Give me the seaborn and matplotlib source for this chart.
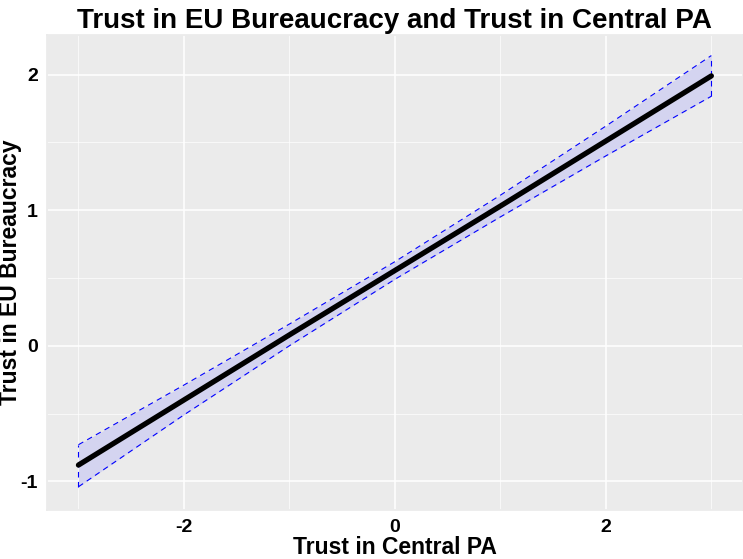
import matplotlib
matplotlib.use("Agg")
import matplotlib.pyplot as plt
from matplotlib.ticker import MultipleLocator
import pandas as pd
import seaborn as sns

# Values (fitted line with confidence band)
central_pa = [-3, -2, -1, 0, 1, 2, 3]
fit = [-0.88, -0.40, 0.08, 0.555, 1.03, 1.51, 1.99]
lower = [-1.04, -0.51, 0.00, 0.49, 0.95, 1.40, 1.84]
upper = [-0.73, -0.29, 0.16, 0.62, 1.11, 1.62, 2.14]
x_ticks = [-2, 0, 2]
y_ticks = [-1, 0, 1, 2]

df = pd.DataFrame({"x": central_pa, "fit": fit, "lower": lower, "upper": upper})

sns.set_theme(style="darkgrid", rc={
    "axes.facecolor": "#EBEBEB",
    "grid.color": "white",
    "axes.edgecolor": "#EBEBEB",
    "text.color": "black",
    "axes.labelcolor": "black",
})
plt.rcParams["font.family"] = ["Liberation Sans", "DejaVu Sans"]
plt.rcParams["axes.unicode_minus"] = False

fig = plt.figure(figsize=(7.43, 5.59), dpi=100)
ax = fig.add_axes([0.063, 0.088, 0.937, 0.849])

# confidence band
ax.fill_between(df["x"], df["lower"], df["upper"], color="#D4D4F0", lw=0, zorder=2)
for col in ["lower", "upper"]:
    sns.lineplot(data=df, x="x", y=col, ax=ax, color="blue", lw=0.8,
                 dashes=False, zorder=3)
for line in ax.lines:
    line.set_linestyle((0, (5, 4)))
# vertical ends of the band
ax.vlines([central_pa[0], central_pa[-1]], [lower[0], lower[-1]], [upper[0], upper[-1]],
          colors="blue", lw=0.8, linestyles=(0, (5, 4)), zorder=3)

# fitted line
sns.lineplot(data=df, x="x", y="fit", ax=ax, color="black", lw=3.8, zorder=4)

ax.set_xlim(-3.3, 3.3)
ax.set_ylim(-1.21, 2.29)
ax.set_xticks(x_ticks)
ax.set_yticks(y_ticks)
ax.xaxis.set_minor_locator(MultipleLocator(1))
ax.yaxis.set_minor_locator(MultipleLocator(0.5))
ax.grid(which="major", color="white", lw=1.1)
ax.grid(which="minor", color="white", lw=0.5)
ax.tick_params(which="major", length=3.5, color="#333333", width=0.8,
               labelsize=14, pad=3)
ax.tick_params(which="minor", length=0)
for lab in ax.get_xticklabels() + ax.get_yticklabels():
    lab.set_fontweight("bold")
    lab.set_color("black")

ax.set_xlabel("Trust in Central PA", fontsize=16.5, fontweight="bold", labelpad=0)
ax.set_ylabel("Trust in EU Bureaucracy", fontsize=16.5, fontweight="bold")
ax.yaxis.set_label_coords(-0.036, 0.5)
ax.set_title("Trust in EU Bureaucracy and Trust in Central PA",
             fontsize=20, fontweight="bold", pad=5)

fig.savefig("out.png", dpi=100)
